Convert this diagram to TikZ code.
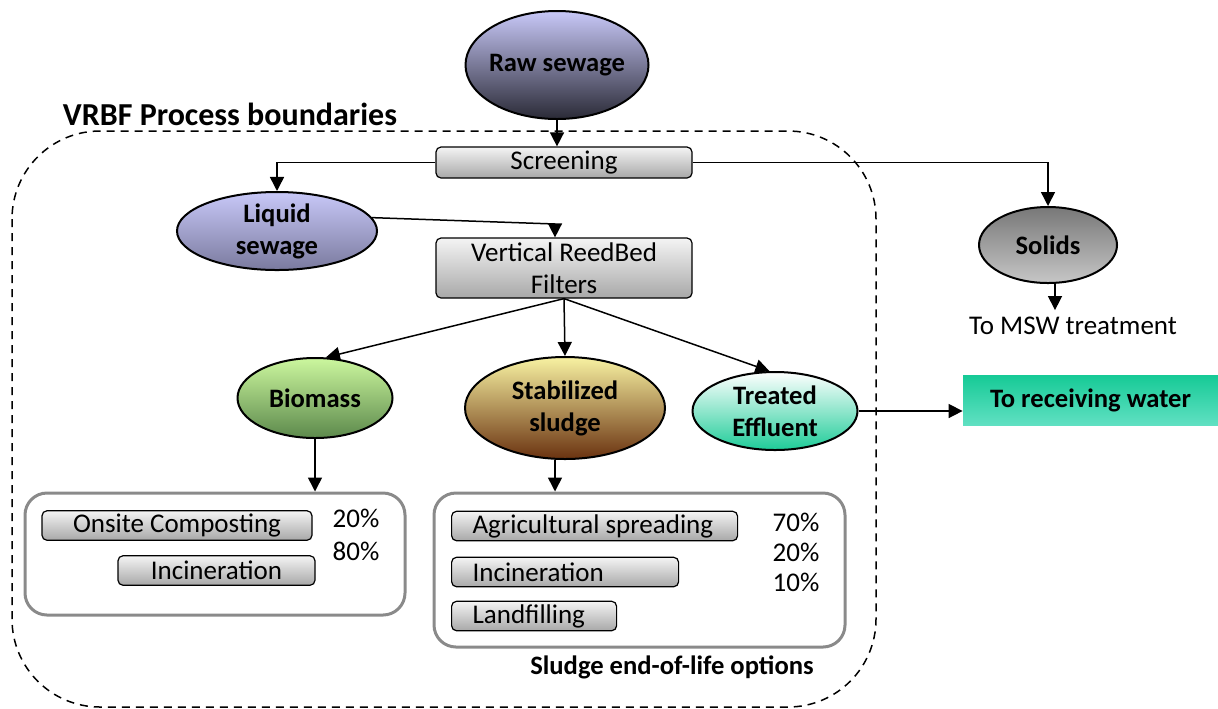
\documentclass[tikz,border=0pt]{standalone}
\usepackage{fontspec}
\setmainfont{Carlito}
\usetikzlibrary{shapes.geometric,arrows.meta,calc}
\definecolor{rawT}{HTML}{C8C8F8}
\definecolor{rawM}{HTML}{80809E}
\definecolor{rawB}{HTML}{2A2A36}
\definecolor{liqT}{HTML}{C8C8F8}
\definecolor{liqB}{HTML}{7A7A9E}
\definecolor{boxT}{HTML}{F4F4F4}
\definecolor{boxB}{HTML}{A8A8A8}
\definecolor{solT}{HTML}{787878}
\definecolor{solB}{HTML}{C6C6C6}
\definecolor{bioT}{HTML}{CCF79E}
\definecolor{bioM}{HTML}{98C878}
\definecolor{bioB}{HTML}{5C894C}
\definecolor{stbT}{HTML}{F8F2A2}
\definecolor{stbM}{HTML}{D0B66C}
\definecolor{stbB}{HTML}{6A3210}
\definecolor{treB}{HTML}{1ECC98}
\definecolor{watT}{HTML}{16CA96}
\definecolor{watB}{HTML}{60E0C2}
\definecolor{frame}{HTML}{8A8A8A}
\begin{document}
\begin{tikzpicture}[x=0.5pt,y=-0.5pt,
  every node/.style={font=\fontsize{13.5}{15}\selectfont},
  ell/.style={ellipse,draw,line width=1pt,inner sep=0pt,align=center,font=\fontsize{13.3}{16}\selectfont\bfseries},
  procbox/.style={draw,line width=0.6pt,rounded corners=2.5pt,top color=boxT,bottom color=boxB,inner sep=0pt,align=center,font=\fontsize{13.5}{15}\selectfont},
  optbox/.style={draw,line width=0.6pt,rounded corners=2.5pt,top color=boxT,bottom color=boxB,inner ysep=0pt,minimum height=14.75pt},
  leftopt/.style={optbox,anchor=west,align=flush left,inner xsep=10.5pt},
  grp/.style={draw=frame,line width=1.5pt,rounded corners=11pt,inner sep=0pt},
  arr/.style={line width=0.75pt,-{Triangle[length=7pt,width=7pt]}}
]
\useasboundingbox (0,0) rectangle (1218,708);

% process boundary
\draw[dash pattern=on 4pt off 3pt,line width=0.75pt,rounded corners=44pt] (12,131) rectangle (876,707);
\node[font=\fontsize{16}{18}\selectfont\bfseries] (title) at (230,114) {VRBF Process boundaries};

% nodes
\node[ell,inner sep=-3pt,minimum width=91.5pt,minimum height=54pt,top color=rawT,middle color=rawM,bottom color=rawB] (raw) at (557,65) {Raw sewage};
\node[procbox,minimum width=128pt,minimum height=15.5pt] (scr) at (564,162.5) {Screening};
\node[ell,minimum width=100pt,minimum height=37pt,top color=liqT,bottom color=liqB] (liq) at (277,231) {Liquid\\sewage};
\node[procbox,minimum width=128pt,minimum height=30pt,font=\fontsize{13.5}{16}\selectfont] (vrbf) at (564,268) {Vertical ReedBed\\Filters};
\node[ell,minimum width=69pt,minimum height=38pt,top color=solT,bottom color=solB] (sol) at (1048,245) {Solids};
\node (msw) at (1073,326) {To MSW treatment};
\node[ell,minimum width=77.5pt,minimum height=40pt,top color=bioT,middle color=bioM,bottom color=bioB] (bio) at (315,398) {Biomass};
\node[ell,minimum width=100pt,minimum height=51pt,top color=stbT,middle color=stbM,bottom color=stbB] (stb) at (565,408) {Stabilized\\sludge};
\node[ell,minimum width=82.5pt,minimum height=39pt,top color=white,bottom color=treB] (tre) at (775,411) {Treated\\Effluent};
\node[top color=watT,bottom color=watB,minimum width=127.5pt,minimum height=25pt,inner sep=0pt,font=\fontsize{13.3}{15}\selectfont\bfseries] (wat) at (1090.5,400) {To receiving water};

% biomass options
\node[grp,minimum width=190pt,minimum height=61pt] (g1) at (215,554) {};
\node[optbox,minimum width=135pt,inner xsep=0pt] (onc) at (177,525.5) {Onsite Composting};
\node[optbox,minimum width=98.5pt,inner xsep=0pt] (inc1) at (216.5,570.5) {Incineration};
\node (p20a) at (356,518) {20\%};
\node (p80) at (356,551) {80\%};

% sludge options
\node[grp,minimum width=205.5pt,minimum height=77pt] (g2) at (639.5,570) {};
\node[leftopt,text width=122pt] (agr) at (451,526) {Agricultural spreading};
\node[leftopt,text width=92.5pt] (inc2) at (451,572) {Incineration};
\node[leftopt,text width=61.5pt] (lnd) at (451,616) {Landfilling};
\node (p70) at (796,522) {70\%};
\node (p20b) at (796,552) {20\%};
\node (p10) at (796,582) {10\%};
\node[font=\fontsize{13.3}{15}\selectfont\bfseries] (slo) at (672,667) {Sludge end-of-life options};

% connectors
\draw[arr] (raw.south) -- (raw.south |- scr.north);
\draw[arr] (scr.west) -| (liq.north);
\draw[arr] (scr.east) -| (sol.north);
\coordinate (lk) at (555,224);
\draw[arr] (liq.8) -- (lk) -- (lk |- vrbf.north);
\draw[arr] (vrbf.south) -- (bio.75);
\draw[arr] (vrbf.south) -- (stb.north);
\draw[arr] (vrbf.south) -- (tre.98);
\draw[arr] (tre.east) -- (tre.east -| wat.west);
\draw[arr] ([xshift=3.5pt]sol.south) -- ([xshift=3.5pt]sol.south |- msw.north);
\draw[arr] (bio.south) -- (bio.south |- g1.north);
\draw[arr] ([xshift=-5pt]stb.south) -- ([xshift=-5pt]stb.south |- g2.north);
\end{tikzpicture}
\end{document}
